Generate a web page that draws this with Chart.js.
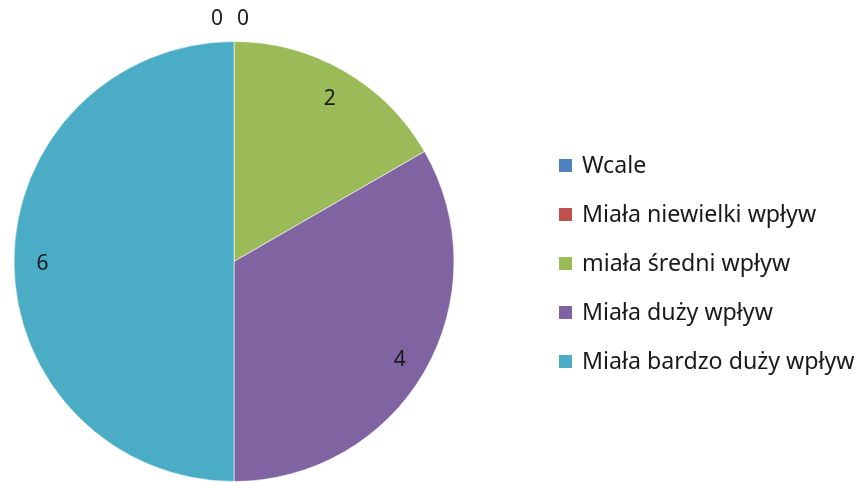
<!DOCTYPE html>
<html>
<head>
<meta charset="utf-8">
<script src="https://cdn.jsdelivr.net/npm/chart.js@4"></script>
<style>
    html, body { margin: 0; padding: 0; background: #fff; }
    #wrap { width: 857px; height: 482px; position: relative; }
</style>
</head>
<body>
<div id="wrap"><canvas id="pie"></canvas></div>
<script>
const labels = ['Wcale', 'Miała niewielki wpływ', 'miała średni wpływ', 'Miała duży wpływ', 'Miała bardzo duży wpływ'];
const values = [0, 0, 2, 4, 6];
const colors = ['#4F81BD', '#C0504D', '#9BBB59', '#8064A2', '#4BACC6'];

const FONT = '"Noto Sans", sans-serif';

// value labels, inside for real slices, just above the edge for empty ones
const valueLabels = {
    id: 'valueLabels',
    afterDatasetsDraw(chart) {
        const ctx = chart.ctx;
        const arcs = chart.getDatasetMeta(0).data;
        const zeros = values.map((v, i) => v === 0 ? i : -1).filter(i => i >= 0);
        ctx.save();
        ctx.font = '21px ' + FONT;
        ctx.fillStyle = '#1a1a1a';
        ctx.textAlign = 'center';
        ctx.textBaseline = 'middle';
        arcs.forEach((arc, i) => {
            const { x, y, startAngle, endAngle, outerRadius } = arc.getProps(['x', 'y', 'startAngle', 'endAngle', 'outerRadius'], true);
            const mid = (startAngle + endAngle) / 2;
            let px, py;
            if (values[i] === 0) {
                const k = zeros.indexOf(i);
                px = x + Math.cos(mid) * (outerRadius + 22) + (k - (zeros.length - 1) / 2) * 26 - 4;
                py = y + Math.sin(mid) * (outerRadius + 22);
            } else {
                px = x + Math.cos(mid) * outerRadius * 0.87;
                py = y + Math.sin(mid) * outerRadius * 0.87 + 3;
            }
            ctx.fillText(String(values[i]), px, py);
        });
        ctx.restore();
    }
};

// legend on the right, Office style
const sideLegend = {
    id: 'sideLegend',
    afterDraw(chart) {
        const ctx = chart.ctx;
        const step = 49;
        const top = 166;
        ctx.save();
        ctx.font = '23.2px ' + FONT;
        ctx.textBaseline = 'middle';
        labels.forEach((name, i) => {
            const cy = top + i * step;
            ctx.fillStyle = colors[i];
            ctx.fillRect(559, cy - 7, 13, 13);
            ctx.fillStyle = '#1a1a1a';
            ctx.fillText(name, 582, cy);
        });
        ctx.restore();
    }
};

new Chart(document.getElementById('pie'), {
    type: 'pie',
    data: {
        labels,
        datasets: [{
            data: values,
            backgroundColor: colors,
            borderColor: 'rgba(255,255,255,0.6)',
            borderWidth: 1
        }]
    },
    options: {
        responsive: true,
        maintainAspectRatio: false,
        animation: false,
        layout: { padding: { top: 41, bottom: 0, left: 13, right: 402 } },
        plugins: {
            legend: { display: false },
            tooltip: { enabled: false }
        }
    },
    plugins: [valueLabels, sideLegend]
});
</script>
</body>
</html>
